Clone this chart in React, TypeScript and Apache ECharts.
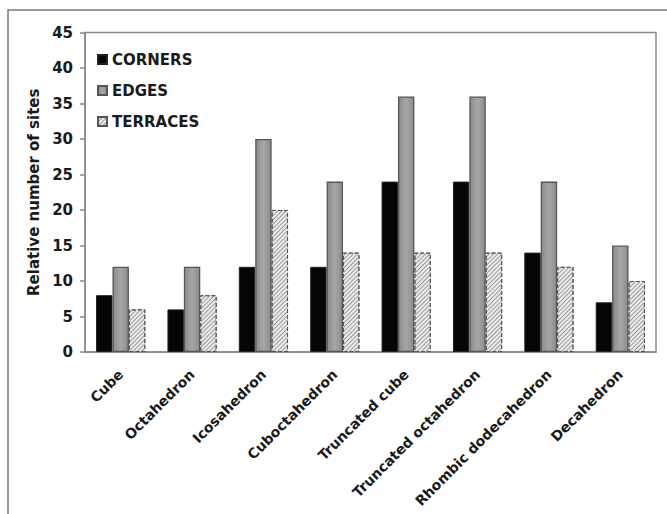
import React, { useEffect, useRef } from "react";
import * as echarts from "echarts";

const categories = [
  "Cube",
  "Octahedron",
  "Icosahedron",
  "Cuboctahedron",
  "Truncated cube",
  "Truncated octahedron",
  "Rhombic dodecahedron",
  "Decahedron",
];
const corners = [8, 6, 12, 12, 24, 24, 14, 7];
const edges = [12, 12, 30, 24, 36, 36, 24, 15];
const terraces = [6, 8, 20, 14, 14, 14, 12, 10];
const seriesNames = ["CORNERS", "EDGES", "TERRACES"];

const FONT = "'DejaVu Sans', 'Liberation Sans', Arial, sans-serif";

export default function App() {
  const ref = useRef<HTMLDivElement>(null);
  useEffect(() => {
    if (!ref.current) return;
    const chart = echarts.init(ref.current, undefined, { renderer: "svg" });
    chart.setOption({
      animation: false,
      backgroundColor: "#ffffff",
      textStyle: { fontFamily: FONT },
      graphic: [
        {
          type: "rect",
          shape: { x: 8, y: 10, width: 700, height: 540 },
          style: { fill: "none", stroke: "#7a7a7a", lineWidth: 1.5 },
          silent: true,
        },
      ],
      grid: {
        left: 85,
        top: 32.5,
        right: 11,
        bottom: 162,
        show: true,
        borderColor: "#8a8a8a",
        borderWidth: 1.5,
        backgroundColor: "transparent",
      },
      legend: {
        orient: "vertical",
        left: 92,
        top: 47,
        itemWidth: 9,
        itemHeight: 9,
        itemGap: 16,
        icon: "rect",
        data: seriesNames,
        textStyle: {
          fontFamily: FONT,
          fontWeight: "bold",
          fontSize: 15,
          color: "#1a1a1a",
        },
      },
      xAxis: {
        type: "category",
        data: categories,
        axisLine: { show: true, lineStyle: { color: "#8a8a8a", width: 1.5 } },
        axisTick: { show: false },
        axisLabel: {
          interval: 0,
          rotate: 45,
          margin: 20,
          fontFamily: FONT,
          fontWeight: "bold",
          fontSize: 14,
          color: "#1a1a1a",
        },
      },
      yAxis: {
        type: "value",
        min: 0,
        max: 45,
        interval: 5,
        name: "Relative number of sites",
        nameLocation: "middle",
        nameRotate: 90,
        nameGap: 44,
        nameTextStyle: {
          fontFamily: FONT,
          fontWeight: "bold",
          fontSize: 15,
          color: "#1a1a1a",
        },
        splitLine: { show: false },
        axisLine: { show: true, lineStyle: { color: "#8a8a8a", width: 1.5 } },
        axisTick: { show: true, length: 5, lineStyle: { color: "#8a8a8a", width: 1.5 } },
        axisLabel: {
          margin: 12,
          fontFamily: FONT,
          fontWeight: "bold",
          fontSize: 15,
          color: "#1a1a1a",
        },
      },
      series: [
        {
          name: seriesNames[0],
          type: "bar",
          data: corners,
          barGap: "0%",
          barCategoryGap: "31%",
          itemStyle: { color: "#050505", borderColor: "#222", borderWidth: 1 },
        },
        {
          name: seriesNames[1],
          type: "bar",
          data: edges,
          itemStyle: {
            color: new echarts.graphic.LinearGradient(0, 0, 1, 0, [
              { offset: 0, color: "#8c8c8c" },
              { offset: 0.5, color: "#a6a6a6" },
              { offset: 1, color: "#8c8c8c" },
            ]),
            borderColor: "#555",
            borderWidth: 1.3,
          },
        },
        {
          name: seriesNames[2],
          type: "bar",
          data: terraces,
          itemStyle: {
            color: "#ececec",
            borderColor: "#555",
            borderWidth: 1,
            borderType: "dashed",
            decal: {
              symbol: "rect",
              symbolSize: 1,
              dashArrayX: [1, 0],
              dashArrayY: [1, 2],
              rotation: -Math.PI / 4,
              color: "#9a9a9a",
            },
          },
        },
      ],
    });
    return () => chart.dispose();
  }, []);
  return (
    <div
      ref={ref}
      style={{ position: "fixed", left: 0, top: 0, width: 667, height: 514 }}
    />
  );
}
